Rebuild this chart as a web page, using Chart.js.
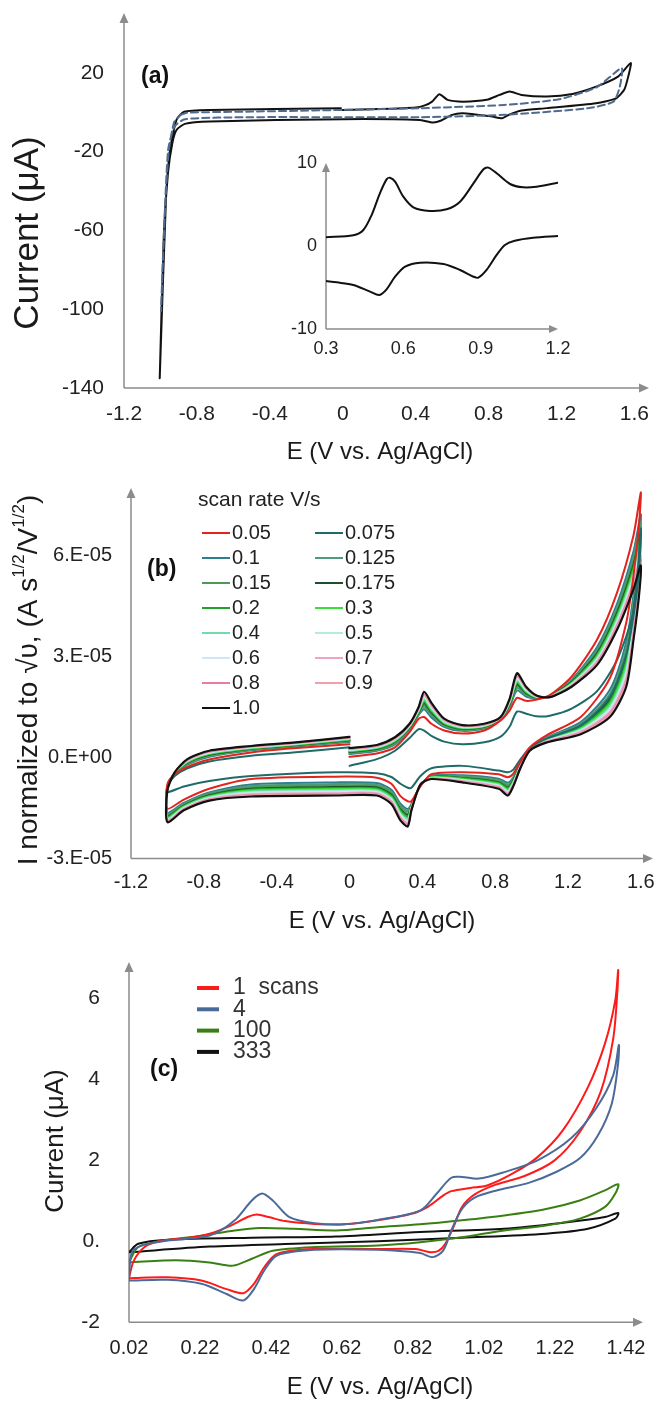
<!DOCTYPE html>
<html>
<head>
<meta charset="utf-8">
<script src="https://cdn.jsdelivr.net/npm/chart.js@4.4.1/dist/chart.umd.min.js"></script>
<style>
  html, body { margin: 0; padding: 0; background: #fff; }
  #fig { position: relative; width: 655px; height: 1401px; overflow: hidden; background: #fff; }
  #fig canvas { position: absolute; left: 0; }
</style>
</head>
<body>
<div id="fig">
  <canvas id="cvA" width="655" height="475" style="top:0px"></canvas>
  <canvas id="cvInset" width="655" height="475" style="top:0px"></canvas>
  <canvas id="cvB" width="655" height="490" style="top:470px"></canvas>
  <canvas id="cvC" width="655" height="471" style="top:930px"></canvas>
</div>
<script>
// ---------------- (a) wide-window CV ----------------
const A_E_TICKS = [-1.2, -0.8, -0.4, 0, 0.4, 0.8, 1.2, 1.6];
const A_E_LABELS = ['-1.2', '-0.8', '-0.4', '0', '0.4', '0.8', '1.2', '1.6'];
const A_I_TICKS = [-140, -100, -60, -20, 20];
const A_I_LABELS = ['-140', '-100', '-60', '-20', '20'];

// solid trace: 0 V -> +1.58 V -> -1.0 V -> back to 0 V
const A_CV_E = [0.00, 0.20, 0.40, 0.45, 0.49, 0.53, 0.575, 0.66, 0.79, 0.86, 0.915, 0.98, 1.12, 1.26, 1.39, 1.51, 1.58,
  1.566, 1.544, 1.50, 1.39, 1.12, 0.98, 0.91, 0.875, 0.82, 0.66, 0.60, 0.54, 0.495, 0.42, 0.00, -0.73, -0.866, -0.912, -0.935, -0.959, -0.981, -1.004,
  -0.97, -0.947, -0.912, -0.87, -0.73, -0.01];
const A_CV_I = [1.2, 1.6, 2.4, 3.5, 5.4, 9.2, 6.3, 5.4, 6.3, 8.8, 10.5, 8.8, 8.0, 9.3, 13.0, 18.1, 25.0,
  18.1, 11.4, 7.1, 4.6, 2.1, 0.9, -1.3, -3.0, -2.2, -0.5, -1.3, -4.2, -5.2, -3.9, -3.5, -4.7, -5.9, -9.0, -15.7, -31.0, -61.4, -135.0,
  -44.5, -19.1, -3.9, 0.3, 1.2, 2.1];

// dashed background scan
const A_BG_E = [-0.89, -0.854, -0.50, 0.00, 0.42, 0.885, 1.186, 1.393, 1.53, 1.52, 1.485, 1.346, 0.885, 0.424, -0.50, -0.866, -0.923, -0.958, -0.981, -0.997, -0.975, -0.955, -0.925, -0.89];
const A_BG_I = [-1.3, -0.2, 0.34, 1.2, 2.06, 3.7, 6.6, 12.7, 22.4, 13.0, 5.4, 2.06, -1.3, -2.5, -2.5, -3.5, -7.3, -19.1, -61.4, -101.0, -50.0, -20.0, -5.0, -1.3];

// inset: 0.3 - 1.2 V window
const INSET_E_TICKS = [0.3, 0.6, 0.9, 1.2];
const INSET_E_LABELS = ['0.3', '0.6', '0.9', '1.2'];
const INSET_I_TICKS = [-10, 0, 10];
const INSET_I_LABELS = ['-10', '0', '10'];
const INSET_FWD_E = [0.30, 0.406, 0.445, 0.477, 0.509, 0.535, 0.548, 0.568, 0.60, 0.639, 0.703, 0.768, 0.82, 0.872, 0.911, 0.93, 0.962, 1.014, 1.065, 1.117, 1.20];
const INSET_FWD_I = [1.05, 1.29, 1.93, 3.73, 6.35, 8.03, 8.23, 7.75, 5.94, 4.66, 4.22, 4.42, 5.34, 7.55, 9.24, 9.44, 8.76, 7.47, 7.07, 7.15, 7.63];
const INSET_REV_E = [1.20, 1.103, 1.032, 0.994, 0.962, 0.923, 0.891, 0.872, 0.82, 0.756, 0.665, 0.607, 0.568, 0.535, 0.507, 0.471, 0.406, 0.342, 0.30];
const INSET_REV_I = [1.2, 1.0, 0.64, 0.12, -1.08, -2.89, -3.82, -3.7, -2.89, -2.17, -2.01, -2.49, -3.7, -5.22, -5.9, -5.5, -4.7, -4.38, -4.22];

// ---------------- (b) scan-rate series (current / sqrt(v), units of 1e-5) ----------------
const B_E_TICKS = [-1.2, -0.8, -0.4, 0, 0.4, 0.8, 1.2, 1.6];
const B_E_LABELS = ['-1.2', '-0.8', '-0.4', '0', '0.4', '0.8', '1.2', '1.6'];
const B_I_TICKS = [-3, 0, 3, 6];
const B_I_LABELS = ['-3.E-05', '0.E+00', '3.E-05', '6.E-05'];
const B_RATES = ['0.05', '0.075', '0.1', '0.125', '0.15', '0.175', '0.2', '0.3', '0.4', '0.5', '0.6', '0.7', '0.8', '0.9', '1.0'];

// potential path shared by every scan: 0 -> 1.6 -> -1.0 -> 0 V
const B_E = [0.00, 0.15, 0.25, 0.33, 0.38, 0.41, 0.45, 0.52, 0.62, 0.74, 0.83, 0.88, 0.92, 0.97, 1.03, 1.10, 1.22, 1.36, 1.47, 1.56, 1.60,
  1.59, 1.56, 1.52, 1.43, 1.27, 1.08, 0.99, 0.94, 0.90, 0.87, 0.82, 0.62, 0.45, 0.39, 0.34, 0.32, 0.28, 0.23, 0.15, -0.08, -0.54, -0.77, -0.91, -1.00,
  -1.00, -0.96, -0.89, -0.77, -0.54, -0.31, 0.00];

const B_I_005 = [0.02, 0.12, 0.30, 0.75, 1.15, 1.20, 1.00, 0.80, 0.71, 0.80, 1.10, 1.40, 1.77, 1.68, 1.72, 1.85, 2.40, 3.50, 4.90, 6.60, 7.87,
  6.90, 5.40, 4.00, 2.35, 1.20, 0.65, 0.30, -0.12, -0.48, -0.59, -0.50, -0.44, -0.50, -0.85, -1.30, -1.30, -1.15, -0.78, -0.60, -0.57, -0.64, -0.93, -1.25, -1.52,
  -0.79, -0.50, -0.28, -0.06, 0.15, 0.27, 0.39];
const B_I_0075 = [-0.25, -0.05, 0.20, 0.58, 0.84, 0.80, 0.64, 0.47, 0.39, 0.45, 0.62, 0.92, 1.36, 1.30, 1.22, 1.24, 1.45, 1.97, 2.90, 4.35, 6.79,
  5.50, 4.20, 3.05, 1.80, 0.95, 0.55, 0.28, -0.05, -0.36, -0.44, -0.39, -0.25, -0.32, -0.55, -0.90, -0.90, -0.78, -0.58, -0.47, -0.44, -0.55, -0.70, -0.86, -1.03,
  -0.85, -0.55, -0.32, -0.12, 0.05, 0.15, 0.30];
const B_I_01 = [0.10, 0.20, 0.39, 0.83, 1.26, 1.43, 1.19, 0.91, 0.79, 0.86, 1.13, 1.51, 1.99, 1.81, 1.75, 1.83, 2.31, 3.28, 4.57, 6.12, 7.22,
  6.27, 4.83, 3.43, 2.01, 1.05, 0.59, 0.27, -0.17, -0.59, -0.75, -0.63, -0.53, -0.54, -0.84, -1.38, -1.53, -1.37, -0.96, -0.76, -0.74, -0.80, -1.04, -1.35, -1.64,
  -0.85, -0.48, -0.21, 0.02, 0.21, 0.32, 0.46];
const B_I_0125 = [0.12, 0.22, 0.42, 0.85, 1.29, 1.50, 1.25, 0.94, 0.81, 0.88, 1.14, 1.54, 2.06, 1.85, 1.76, 1.83, 2.28, 3.20, 4.46, 5.96, 7.00,
  6.06, 4.64, 3.24, 1.89, 1.00, 0.57, 0.26, -0.19, -0.63, -0.81, -0.67, -0.56, -0.56, -0.83, -1.41, -1.60, -1.44, -1.02, -0.81, -0.79, -0.85, -1.07, -1.38, -1.68,
  -0.87, -0.48, -0.19, 0.04, 0.23, 0.34, 0.48];
const B_I_015 = [0.15, 0.24, 0.44, 0.87, 1.32, 1.56, 1.30, 0.97, 0.83, 0.90, 1.15, 1.57, 2.12, 1.88, 1.77, 1.82, 2.26, 3.14, 4.37, 5.83, 6.83,
  5.89, 4.49, 3.09, 1.80, 0.96, 0.55, 0.25, -0.21, -0.66, -0.85, -0.71, -0.58, -0.57, -0.83, -1.43, -1.66, -1.50, -1.07, -0.85, -0.84, -0.89, -1.10, -1.40, -1.71,
  -0.88, -0.47, -0.17, 0.07, 0.24, 0.35, 0.50];
const B_I_0175 = [0.16, 0.26, 0.47, 0.89, 1.34, 1.61, 1.34, 0.99, 0.85, 0.91, 1.16, 1.59, 2.17, 1.91, 1.78, 1.82, 2.24, 3.09, 4.30, 5.72, 6.68,
  5.75, 4.36, 2.96, 1.72, 0.92, 0.53, 0.25, -0.22, -0.68, -0.89, -0.74, -0.61, -0.58, -0.82, -1.45, -1.71, -1.55, -1.11, -0.89, -0.88, -0.93, -1.12, -1.43, -1.74,
  -0.90, -0.47, -0.15, 0.08, 0.26, 0.36, 0.51];
const B_I_02 = [0.18, 0.27, 0.48, 0.90, 1.36, 1.65, 1.37, 1.01, 0.86, 0.92, 1.16, 1.61, 2.21, 1.93, 1.79, 1.81, 2.22, 3.05, 4.24, 5.64, 6.57,
  5.64, 4.26, 2.86, 1.66, 0.89, 0.52, 0.24, -0.23, -0.70, -0.91, -0.76, -0.62, -0.58, -0.82, -1.46, -1.75, -1.58, -1.14, -0.92, -0.91, -0.95, -1.14, -1.44, -1.76,
  -0.90, -0.46, -0.14, 0.10, 0.26, 0.37, 0.52];
const B_I_03 = [0.19, 0.29, 0.50, 0.92, 1.38, 1.70, 1.41, 1.03, 0.88, 0.93, 1.17, 1.63, 2.25, 1.96, 1.79, 1.81, 2.20, 3.01, 4.17, 5.54, 6.44,
  5.51, 4.15, 2.75, 1.59, 0.86, 0.51, 0.23, -0.24, -0.72, -0.95, -0.78, -0.64, -0.59, -0.82, -1.48, -1.80, -1.63, -1.18, -0.95, -0.94, -0.98, -1.16, -1.46, -1.78,
  -0.92, -0.46, -0.13, 0.11, 0.28, 0.38, 0.54];
const B_I_04 = [0.21, 0.30, 0.52, 0.93, 1.40, 1.74, 1.45, 1.05, 0.89, 0.94, 1.17, 1.65, 2.30, 1.98, 1.80, 1.81, 2.18, 2.96, 4.11, 5.45, 6.31,
  5.39, 4.03, 2.63, 1.52, 0.83, 0.50, 0.23, -0.25, -0.75, -0.98, -0.81, -0.66, -0.60, -0.81, -1.49, -1.84, -1.67, -1.21, -0.98, -0.97, -1.01, -1.18, -1.48, -1.81,
  -0.93, -0.46, -0.11, 0.13, 0.29, 0.39, 0.55];
const B_I_05 = [0.22, 0.31, 0.53, 0.94, 1.42, 1.78, 1.48, 1.07, 0.90, 0.95, 1.18, 1.67, 2.33, 2.00, 1.81, 1.80, 2.17, 2.92, 4.05, 5.37, 6.20,
  5.28, 3.94, 2.54, 1.46, 0.81, 0.49, 0.22, -0.26, -0.77, -1.01, -0.83, -0.67, -0.61, -0.81, -1.51, -1.88, -1.70, -1.24, -1.01, -1.00, -1.04, -1.20, -1.50, -1.83,
  -0.94, -0.45, -0.10, 0.14, 0.30, 0.40, 0.56];
const B_I_06 = [0.23, 0.33, 0.55, 0.96, 1.44, 1.82, 1.51, 1.09, 0.92, 0.96, 1.18, 1.69, 2.37, 2.02, 1.81, 1.80, 2.15, 2.89, 4.00, 5.29, 6.09,
  5.18, 3.84, 2.44, 1.41, 0.78, 0.48, 0.22, -0.27, -0.78, -1.03, -0.85, -0.69, -0.62, -0.81, -1.52, -1.92, -1.74, -1.27, -1.04, -1.03, -1.07, -1.22, -1.51, -1.85,
  -0.95, -0.45, -0.09, 0.15, 0.31, 0.41, 0.57];
const B_I_07 = [0.25, 0.34, 0.56, 0.97, 1.46, 1.85, 1.54, 1.11, 0.93, 0.97, 1.19, 1.71, 2.41, 2.05, 1.82, 1.80, 2.14, 2.85, 3.94, 5.21, 5.98,
  5.07, 3.75, 2.35, 1.35, 0.76, 0.47, 0.21, -0.28, -0.80, -1.06, -0.87, -0.70, -0.62, -0.81, -1.54, -1.95, -1.78, -1.30, -1.06, -1.06, -1.09, -1.24, -1.53, -1.87,
  -0.96, -0.45, -0.08, 0.17, 0.32, 0.42, 0.58];
const B_I_08 = [0.26, 0.35, 0.58, 0.98, 1.47, 1.89, 1.57, 1.12, 0.94, 0.98, 1.19, 1.72, 2.44, 2.07, 1.82, 1.80, 2.12, 2.81, 3.89, 5.13, 5.87,
  4.97, 3.65, 2.25, 1.29, 0.73, 0.46, 0.21, -0.29, -0.82, -1.09, -0.90, -0.72, -0.63, -0.80, -1.55, -1.99, -1.81, -1.33, -1.09, -1.09, -1.12, -1.25, -1.54, -1.89,
  -0.97, -0.45, -0.07, 0.18, 0.33, 0.43, 0.59];
const B_I_09 = [0.27, 0.36, 0.59, 0.99, 1.48, 1.91, 1.59, 1.13, 0.95, 0.99, 1.20, 1.73, 2.46, 2.08, 1.83, 1.79, 2.12, 2.79, 3.86, 5.08, 5.81,
  4.91, 3.60, 2.20, 1.26, 0.72, 0.45, 0.21, -0.29, -0.83, -1.10, -0.91, -0.73, -0.63, -0.80, -1.56, -2.01, -1.83, -1.35, -1.10, -1.10, -1.13, -1.26, -1.55, -1.90,
  -0.97, -0.44, -0.06, 0.19, 0.33, 0.43, 0.60];
const B_I_10 = [0.28, 0.37, 0.60, 1.00, 1.50, 1.95, 1.62, 1.15, 0.96, 1.00, 1.20, 1.75, 2.50, 2.10, 1.83, 1.79, 2.10, 2.75, 3.80, 5.00, 5.70,
  4.80, 3.50, 2.10, 1.20, 0.69, 0.44, 0.20, -0.30, -0.85, -1.13, -0.93, -0.74, -0.64, -0.80, -1.57, -2.05, -1.87, -1.38, -1.13, -1.13, -1.16, -1.28, -1.57, -1.92,
  -0.98, -0.44, -0.05, 0.20, 0.34, 0.44, 0.61];
const B_SERIES = [B_I_005, B_I_0075, B_I_01, B_I_0125, B_I_015, B_I_0175, B_I_02, B_I_03, B_I_04, B_I_05, B_I_06, B_I_07, B_I_08, B_I_09, B_I_10];
const B_COLORS = ['#e3231e', '#1f6b68', '#2c7f8e', '#4f9b7c', '#4d9a56', '#1f4f2a', '#23a22b', '#38e038',
  '#72dcab', '#aeeedd', '#cfe6f5', '#f2a2c4', '#e67ca3', '#f0a0aa', '#111111'];

// ---------------- (c) repeated cycling ----------------
const C_E_TICKS = [0.02, 0.22, 0.42, 0.62, 0.82, 1.02, 1.22, 1.42];
const C_E_LABELS = ['0.02', '0.22', '0.42', '0.62', '0.82', '1.02', '1.22', '1.42'];
const C_I_TICKS = [-2, 0, 2, 4, 6];
const C_I_LABELS = ['-2', '0.', '2', '4', '6'];
const C_SCANS = ['1  scans', '4', '100', '333'];

const C_E_1 = [0.02, 0.034, 0.064, 0.105, 0.188, 0.247, 0.307, 0.354, 0.38, 0.413, 0.46, 0.543, 0.626, 0.721, 0.816, 0.863, 0.905, 0.928, 0.982, 1.029, 1.10, 1.171, 1.242, 1.313, 1.361, 1.39, 1.398,
  1.396, 1.384, 1.349, 1.29, 1.219, 1.136, 1.053, 0.994, 0.958, 0.934, 0.911, 0.893, 0.869, 0.828, 0.721, 0.543, 0.437, 0.401, 0.372, 0.342, 0.295, 0.224, 0.129, 0.02];
const C_I_1 = [-0.89, -0.47, -0.14, 0.00, 0.09, 0.19, 0.39, 0.60, 0.66, 0.60, 0.50, 0.43, 0.42, 0.52, 0.68, 0.86, 1.13, 1.24, 1.32, 1.38, 1.67, 2.08, 2.74, 3.81, 4.89, 5.96, 6.70,
  6.20, 5.00, 3.70, 2.70, 2.00, 1.62, 1.40, 1.16, 0.85, 0.35, -0.06, -0.23, -0.27, -0.19, -0.19, -0.19, -0.31, -0.64, -1.05, -1.28, -1.18, -0.97, -0.89, -0.91];
const C_E_4 = [0.02, 0.028, 0.058, 0.129, 0.247, 0.318, 0.366, 0.395, 0.425, 0.472, 0.543, 0.626, 0.721, 0.84, 0.887, 0.928, 0.958, 1.005, 1.077, 1.171, 1.266, 1.337, 1.384, 1.40,
  1.398, 1.38, 1.34, 1.29, 1.22, 1.148, 1.053, 0.994, 0.958, 0.928, 0.905, 0.875, 0.84, 0.721, 0.543, 0.437, 0.401, 0.372, 0.342, 0.295, 0.224, 0.129, 0.02];
const C_I_4 = [-0.97, -0.27, -0.10, 0.02, 0.14, 0.52, 1.01, 1.18, 1.01, 0.60, 0.45, 0.42, 0.53, 0.76, 1.18, 1.57, 1.59, 1.55, 1.71, 2.00, 2.55, 3.30, 4.10, 4.85,
  4.40, 3.40, 2.60, 2.05, 1.70, 1.45, 1.25, 1.08, 0.80, 0.27, -0.23, -0.39, -0.29, -0.21, -0.21, -0.35, -0.72, -1.18, -1.46, -1.30, -1.05, -0.95, -0.97];
const C_E_100 = [0.02, 0.046, 0.105, 0.224, 0.318, 0.39, 0.485, 0.603, 0.721, 0.84, 0.958, 1.077, 1.195, 1.29, 1.361, 1.398,
  1.39, 1.361, 1.29, 1.195, 1.077, 0.958, 0.84, 0.721, 0.543, 0.425, 0.366, 0.313, 0.247, 0.153, 0.02];
const C_I_100 = [-0.52, -0.14, 0.00, 0.14, 0.27, 0.33, 0.31, 0.27, 0.35, 0.42, 0.52, 0.64, 0.80, 1.01, 1.26, 1.41,
  1.18, 0.85, 0.56, 0.39, 0.27, 0.10, -0.02, -0.10, -0.14, -0.23, -0.43, -0.60, -0.52, -0.47, -0.52];
const C_E_333 = [0.02, 0.046, 0.129, 0.366, 0.603, 0.84, 1.077, 1.254, 1.361, 1.398, 1.39, 1.313, 1.195, 0.958, 0.721, 0.485, 0.247, 0.02];
const C_I_333 = [-0.27, -0.06, 0.04, 0.09, 0.12, 0.23, 0.31, 0.47, 0.60, 0.70, 0.56, 0.31, 0.19, 0.09, 0.00, -0.06, -0.13, -0.27];

// ---------------- drawing ----------------
const FONT = "'Liberation Sans', Arial, Helvetica, sans-serif";
Chart.defaults.font.family = FONT;
Chart.defaults.color = '#222';

const pts = (xs, ys) => xs.map((x, i) => ({x, y: ys[i]}));

// gray axis lines with arrow heads, drawn under the curves
const axisArrows = {
  id: 'axisArrows',
  beforeDatasetsDraw(chart, args, o) {
    const {ctx, chartArea: {left, right, top, bottom}} = chart;
    ctx.save();
    ctx.strokeStyle = o.color; ctx.fillStyle = o.color; ctx.lineWidth = o.width;
    ctx.beginPath();
    ctx.moveTo(left, bottom); ctx.lineTo(left, top + o.head - 1);
    ctx.moveTo(left, bottom); ctx.lineTo(right - o.head + 1, bottom);
    ctx.stroke();
    ctx.beginPath();
    ctx.moveTo(left, top); ctx.lineTo(left - o.half, top + o.head); ctx.lineTo(left + o.half, top + o.head); ctx.closePath();
    ctx.moveTo(right, bottom); ctx.lineTo(right - o.head, bottom - o.half); ctx.lineTo(right - o.head, bottom + o.half); ctx.closePath();
    ctx.fill();
    ctx.restore();
  }
};

// free text: panel letters and axis titles (supports raised parts)
const panelText = {
  id: 'panelText',
  afterDraw(chart, args, o) {
    const ctx = chart.ctx;
    (o.items || []).forEach(it => {
      ctx.save();
      ctx.fillStyle = it.color || '#1a1a1a';
      ctx.textBaseline = 'middle';
      ctx.translate(it.x, it.y);
      if (it.rot) ctx.rotate(it.rot);
      if (it.parts) {
        const size = it.size;
        const fontOf = p => (p.sup ? Math.round(size * 0.62) : size) + 'px ' + FONT;
        let total = 0;
        const widths = it.parts.map(p => { ctx.font = fontOf(p); const w = ctx.measureText(p.t).width; total += w; return w; });
        ctx.textAlign = 'left';
        let x = -total / 2;
        it.parts.forEach((p, i) => { ctx.font = fontOf(p); ctx.fillText(p.t, x, p.sup ? -size * 0.36 : 0); x += widths[i]; });
      } else {
        ctx.font = it.font;
        ctx.textAlign = it.align || 'center';
        ctx.fillText(it.text, 0, 0);
      }
      ctx.restore();
    });
  }
};

// legend laid out on a fixed grid, labels and colours taken from the datasets
const gridLegend = {
  id: 'gridLegend',
  afterDraw(chart, args, o) {
    const ctx = chart.ctx;
    ctx.save();
    ctx.textBaseline = 'middle'; ctx.textAlign = 'left'; ctx.fillStyle = o.color;
    if (o.title) { ctx.font = o.titleFont; ctx.fillText(o.title, o.titleX, o.titleY); }
    ctx.font = o.font;
    ctx.lineCap = 'butt';
    chart.data.datasets.forEach((ds, i) => {
      const col = i % o.cols, row = Math.floor(i / o.cols);
      const x = o.x + col * o.colW, y = o.y + row * o.rowH;
      ctx.strokeStyle = ds.borderColor; ctx.lineWidth = o.lineW; ctx.setLineDash([]);
      ctx.beginPath(); ctx.moveTo(x, y); ctx.lineTo(x + o.lineLen, y); ctx.stroke();
      ctx.fillText(ds.label, x + o.lineLen + o.gap, y);
    });
    ctx.restore();
  }
};

function axisOpts(o) {
  return {
    type: 'linear', min: o.min, max: o.max,
    grid: {display: false, drawTicks: false},
    border: {display: false},
    afterBuildTicks: s => { s.ticks = o.ticks.map(v => ({value: v})); },
    afterFit: s => {
      if (o.horizontal) { s.height = o.size; s.paddingLeft = 0; s.paddingRight = 0; }
      else { s.width = o.size; s.paddingTop = 0; s.paddingBottom = 0; }
    },
    ticks: {
      padding: o.pad, autoSkip: false, maxRotation: 0, minRotation: 0,
      color: '#222', font: {size: o.fontSize, family: FONT},
      callback: (v, i) => o.labels[i]
    }
  };
}

function cvChart(id, cfg) {
  const cv = document.getElementById(id);
  const W = cv.width, H = cv.height;
  return new Chart(cv, {
    type: 'scatter',
    data: {datasets: cfg.datasets},
    options: {
      responsive: false, animation: false, devicePixelRatio: 1, events: [],
      layout: {padding: {left: 0, top: cfg.area.top, right: W - cfg.area.right, bottom: 0}},
      scales: {
        x: axisOpts(Object.assign({}, cfg.x, {size: H - cfg.area.bottom, horizontal: true})),
        y: axisOpts(Object.assign({}, cfg.y, {size: cfg.area.left}))
      },
      elements: {point: {radius: 0, hoverRadius: 0}, line: {tension: cfg.tension, fill: false, borderCapStyle: 'round', borderJoinStyle: 'round'}},
      plugins: {
        legend: {display: false}, tooltip: {enabled: false},
        axisArrows: {color: '#8c8c8c', width: 1.5, head: cfg.head || 10, half: cfg.half || 4.5},
        panelText: {items: cfg.text || []},
        gridLegend: cfg.legend || false
      }
    },
    plugins: [axisArrows, panelText, gridLegend]
  });
}

const line = (label, xs, ys, color, width, extra) => Object.assign({
  label, data: pts(xs, ys), showLine: true, borderColor: color, backgroundColor: color,
  borderWidth: width, pointRadius: 0
}, extra || {});

// (a)
cvChart('cvA', {
  area: {left: 124, right: 649, top: 13, bottom: 388},
  x: {min: -1.2, max: 1.68, ticks: A_E_TICKS, labels: A_E_LABELS, pad: 14, fontSize: 21},
  y: {min: -140, max: 50.4, ticks: A_I_TICKS, labels: A_I_LABELS, pad: 20, fontSize: 21},
  tension: 0.2,
  datasets: [
    line('background', A_BG_E, A_BG_I, '#4f6b8e', 2, {borderDash: [7, 4], order: 0}),
    line('CV', A_CV_E, A_CV_I, '#111111', 2, {order: 1})
  ],
  text: [
    {text: '(a)', x: 141, y: 77, font: 'bold 23px ' + FONT, align: 'left', color: '#111'},
    {text: 'E (V vs. Ag/AgCl)', x: 380, y: 452, font: '24px ' + FONT},
    {text: 'Current (\u03bcA)', x: 28, y: 233, font: '35px ' + FONT, rot: -Math.PI / 2}
  ]
});

// (a) inset
cvChart('cvInset', {
  area: {left: 326, right: 558, top: 163, bottom: 329},
  x: {min: 0.3, max: 1.2, ticks: INSET_E_TICKS, labels: INSET_E_LABELS, pad: 9, fontSize: 18},
  y: {min: -10, max: 10, ticks: INSET_I_TICKS, labels: INSET_I_LABELS, pad: 9, fontSize: 18},
  tension: 0.3, head: 9, half: 4,
  datasets: [
    line('forward', INSET_FWD_E, INSET_FWD_I, '#111111', 2),
    line('reverse', INSET_REV_E, INSET_REV_I, '#111111', 2)
  ]
});

// (b)
cvChart('cvB', {
  area: {left: 131, right: 653, top: 18, bottom: 388.5},
  x: {min: -1.2, max: 1.667, ticks: B_E_TICKS, labels: B_E_LABELS, pad: 11.5, fontSize: 20},
  y: {min: -3, max: 8.0, ticks: B_I_TICKS, labels: B_I_LABELS, pad: 19, fontSize: 20},
  tension: 0.25,
  datasets: B_RATES.map((r, i) => {
    const order = i === B_RATES.length - 1 ? 0 : (i === 0 ? 1 : (i === 1 ? 2 : 16 - i));
    return line(r, B_E, B_SERIES[i], B_COLORS[i], i === B_RATES.length - 1 ? 2.2 : 2, {order});
  }),
  legend: {
    title: 'scan rate V/s', titleX: 198, titleY: 30, titleFont: '21px ' + FONT,
    font: '20px ' + FONT, color: '#222',
    x: 202, y: 63, cols: 2, colW: 113, rowH: 25, lineLen: 28, lineW: 2, gap: 2
  },
  text: [
    {text: '(b)', x: 147, y: 100, font: 'bold 23px ' + FONT, align: 'left', color: '#111'},
    {text: 'E (V vs. Ag/AgCl)', x: 382, y: 451, font: '24px ' + FONT},
    {x: 29.5, y: 210, size: 28, rot: -Math.PI / 2, parts: [
      {t: 'I normalized to \u221a\u03c5, (A s'}, {t: '1/2', sup: true}, {t: '/V'}, {t: '1/2', sup: true}, {t: ')'}
    ]}
  ]
});

// (c)
cvChart('cvC', {
  area: {left: 129, right: 643, top: 32, bottom: 392.3},
  x: {min: 0.02, max: 1.468, ticks: C_E_TICKS, labels: C_E_LABELS, pad: 14, fontSize: 20},
  y: {min: -2, max: 6.9, ticks: C_I_TICKS, labels: C_I_LABELS, pad: 29, fontSize: 21},
  tension: 0.3,
  datasets: [
    line(C_SCANS[0], C_E_1, C_I_1, '#ff1a1a', 2, {order: 1}),
    line(C_SCANS[1], C_E_4, C_I_4, '#4a6b9a', 2, {order: 0}),
    line(C_SCANS[2], C_E_100, C_I_100, '#3a7f12', 2, {order: 2}),
    line(C_SCANS[3], C_E_333, C_I_333, '#111111', 2, {order: 3})
  ],
  legend: {
    font: '23px ' + FONT, color: '#333',
    x: 197, y: 58, cols: 1, colW: 0, rowH: 21.3, lineLen: 22, lineW: 4, gap: 14
  },
  text: [
    {text: '(c)', x: 150, y: 140, font: 'bold 23px ' + FONT, align: 'left', color: '#111'},
    {text: 'E (V vs. Ag/AgCl)', x: 380, y: 457, font: '24px ' + FONT},
    {text: 'Current (\u03bcA)', x: 56, y: 211, font: '26px ' + FONT, rot: -Math.PI / 2}
  ]
});
</script>
</body>
</html>
